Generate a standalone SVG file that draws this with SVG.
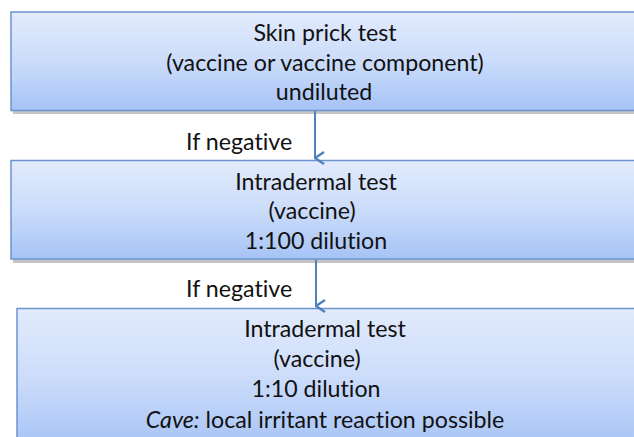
<svg xmlns="http://www.w3.org/2000/svg" width="634" height="437" viewBox="0 0 634 437">
  <defs>
    <linearGradient id="boxfill" x1="0" y1="0" x2="0" y2="1">
      <stop offset="0" stop-color="#e2ebfc"/>
      <stop offset="0.5" stop-color="#cbdcfa"/>
      <stop offset="1" stop-color="#a6c3f6"/>
    </linearGradient>
    <marker id="chev" viewBox="0 0 14 14" refX="7" refY="13" markerWidth="14" markerHeight="14" markerUnits="userSpaceOnUse" orient="auto-start-reverse">
      <path d="M1,4 L7,13 L13,4" fill="none" stroke="#4f81bd" stroke-width="2.4"/>
    </marker>
    <style>
      .box { fill: url(#boxfill); stroke: #6d93cf; stroke-width: 1.5; }
      .shadow { fill: #c4c4c4; }
      .t { font-family: Lato, "Liberation Sans", sans-serif; font-size: 23.2px; fill: #111111; text-anchor: middle; font-variant-ligatures: none; }
      .lbl { font-family: Lato, "Liberation Sans", sans-serif; font-size: 23.2px; fill: #111111; font-variant-ligatures: none; }
      .conn { stroke: #4f81bd; stroke-width: 2; fill: none; }
    </style>
  </defs>
  <rect width="634" height="437" fill="#ffffff"/>

  <g id="node-skin-prick">
    <rect class="shadow" x="13" y="110" width="640" height="4"/>
    <rect class="box" x="11" y="12" width="640" height="98.5"/>
    <text class="t" x="325" y="41">Skin prick test</text>
    <text class="t" x="325" y="71">(vaccine or vaccine component)</text>
    <text class="t" x="324" y="100">undiluted</text>
  </g>

  <g id="node-intradermal-100">
    <rect class="shadow" x="13" y="259" width="640" height="4"/>
    <rect class="box" x="11" y="160.5" width="640" height="98.5"/>
    <text class="t" x="316" y="190">Intradermal test</text>
    <text class="t" x="312" y="219">(vaccine)</text>
    <text class="t" x="316" y="249">1:100 dilution</text>
  </g>

  <g id="node-intradermal-10">
    <rect class="box" x="17" y="308.5" width="640" height="140"/>
    <text class="t" x="325" y="337">Intradermal test</text>
    <text class="t" x="317" y="367">(vaccine)</text>
    <text class="t" x="316" y="397">1:10 dilution</text>
    <text class="t" x="325" y="428"><tspan font-style="italic">Cave:</tspan> local irritant reaction possible</text>
  </g>

  <g id="connectors">
    <line class="conn" x1="315" y1="111" x2="315" y2="158" marker-end="url(#chev)"/>
    <text class="lbl" x="186" y="150">If negative</text>
    <line class="conn" x1="316" y1="260" x2="316" y2="306" marker-end="url(#chev)"/>
    <text class="lbl" x="186" y="297">If negative</text>
  </g>
</svg>
